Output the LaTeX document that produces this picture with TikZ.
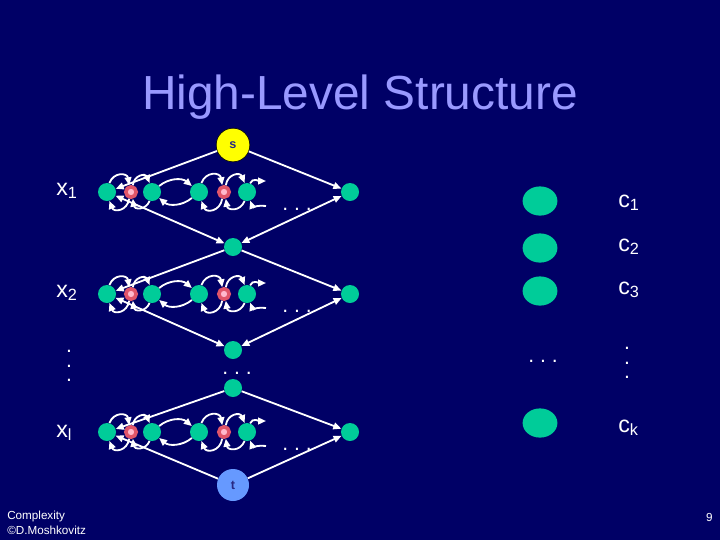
\documentclass[tikz,border=0pt]{standalone}
\usepackage{fontspec}
\setmainfont{Liberation Sans}
\usetikzlibrary{arrows.meta,shapes.geometric}

\definecolor{slidebg}{RGB}{0,0,102}
\definecolor{titleblue}{RGB}{153,153,255}
\definecolor{nodegreen}{RGB}{0,204,153}
\definecolor{ringred}{RGB}{225,85,105}
\definecolor{ringpink}{RGB}{255,185,205}
\definecolor{syellow}{RGB}{255,255,0}
\definecolor{tblue}{RGB}{102,153,255}
\definecolor{inkblue}{RGB}{40,40,130}

\tikzset{
  gnode/.style={circle, fill=nodegreen, minimum size=0.45cm, inner sep=0pt},
  rnode/.style={circle, fill=ringpink, draw=ringred, line width=0.09cm, minimum size=0.26cm, inner sep=0pt},
  clause/.style={ellipse, fill=nodegreen, minimum width=0.87cm, minimum height=0.73cm, inner sep=0pt},
  endnode/.style={circle, minimum size=0.84cm, inner sep=0pt, font=\fontsize{9}{10}\selectfont\bfseries, text=inkblue},
  wire/.style={draw=white, line width=1.3pt},
  lbl/.style={anchor=base west, text=white, font=\fontsize{16.5}{18}\selectfont, inner sep=0pt},
  dots/.style={anchor=base, text=white, font=\fontsize{15}{17}\selectfont, inner sep=0pt},
  vdots/.style={align=center, text=white, font=\fontsize{15}{10.3}\selectfont, inner sep=0pt},
  foot/.style={anchor=base west, text=white, font=\fontsize{8.3}{10}\selectfont, inner sep=0pt}
}

\begin{document}
\begin{tikzpicture}[x=0.025cm, y=-0.025cm, >={Triangle[length=0.2cm,width=0.17cm]}]
  \fill[slidebg] (0,0) rectangle (720,540);
  \useasboundingbox (0,0) rectangle (720,540);

  % title
  \node[anchor=base, text=titleblue, font=\fontsize{34}{40}\selectfont, inner sep=0pt] (title) at (360,109) {High-Level Structure};

  % source, sink and the nodes between the rows
  \node[endnode, fill=syellow, draw=black, thin] (s) at (233,145) {s};
  \node[endnode, fill=tblue, minimum size=0.8cm] (t) at (233,485) {t};
  \node[gnode] (m1) at (233,247) {};
  \node[gnode] (m2) at (233,350) {};
  \node[gnode] (m3) at (233,388) {};

  % one row per variable
  \foreach \r/\y in {1/192,2/294,3/432} {
    \node[gnode] (a\r) at (107,\y) {};
    \node[rnode] (b\r) at (131,\y) {};
    \node[gnode] (c\r) at (152,\y) {};
    \node[gnode] (d\r) at (199,\y) {};
    \node[rnode] (e\r) at (224,\y) {};
    \node[gnode] (f\r) at (247,\y) {};
    \node[gnode] (z\r) at (350,\y) {};
    \coordinate (fo\r) at (266,\y-11);
    \coordinate (fi\r) at (266,\y+14);
    \node[dots] (rd\r) at (297,\y+18) {.\ .\ .};
    \foreach \p/\q in {a/b,b/c,d/e,e/f} {
      \draw[wire,->] (\p\r) to[bend left=75, looseness=1.6] (\q\r);
      \draw[wire,->] (\q\r) to[bend left=75, looseness=1.6] (\p\r);
    }
    \draw[wire,->] (c\r) to[bend left=40] (d\r);
    \draw[wire,->] (d\r) to[bend left=40] (c\r);
    \draw[wire,->] (f\r) to[out=70, in=180] (fo\r);
    \draw[wire,->] (fi\r) to[out=170, in=-70] (f\r);
  }

  % diamonds
  \draw[wire,->] (s) -- (a1);
  \draw[wire,->] (s) -- (z1);
  \draw[wire,<->] (a1) -- (m1);
  \draw[wire,<->] (z1) -- (m1);
  \draw[wire,->] (m1) -- (a2);
  \draw[wire,->] (m1) -- (z2);
  \draw[wire,<->] (a2) -- (m2);
  \draw[wire,<->] (z2) -- (m2);
  \draw[wire,->] (m3) -- (a3);
  \draw[wire,->] (m3) -- (z3);
  \draw[wire,<-] (a3) -- (t);
  \draw[wire,<-] (z3) -- (t);
  \node[dots] (md) at (237,374) {.\ .\ .};

  % variable labels
  \node[lbl] (x1) at (56,195) {x\textsubscript{1}};
  \node[lbl] (x2) at (56,297) {x\textsubscript{2}};
  \node[lbl] (xl) at (56,437) {x\textsubscript{l}};
  \node[vdots] (vx) at (69,366) {.\\.\\.};

  % clauses
  \foreach \k/\y in {1/201,2/248,3/291,k/423}
    \node[clause] (cl\k) at (540,\y) {};
  \node[lbl] (c1) at (618,207) {c\textsubscript{1}};
  \node[lbl] (c2) at (618,251) {c\textsubscript{2}};
  \node[lbl] (c3) at (618,294) {c\textsubscript{3}};
  \node[lbl] (ck) at (618,432) {c\textsubscript{k}};
  \node[dots] (cd) at (543,362) {.\ .\ .};
  \node[vdots] (vc) at (627,363) {.\\.\\.};

  % footer
  \node[foot] (f1) at (7,519) {Complexity};
  \node[foot] (f2) at (7,534) {©D.Moshkovitz};
  \node[foot, anchor=base east] (pg) at (713,521) {9};
\end{tikzpicture}
\end{document}
